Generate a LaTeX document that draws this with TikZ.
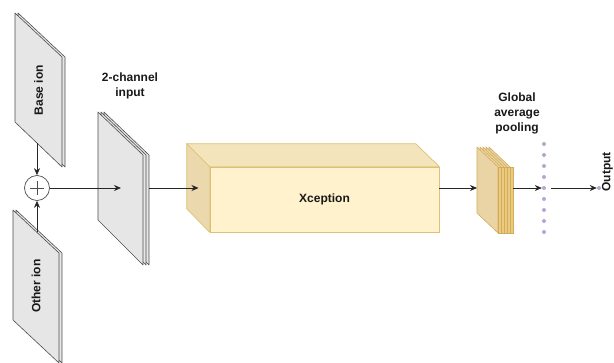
\documentclass[tikz,border=0pt]{standalone}
\usepackage{fontspec}
\setmainfont{Liberation Sans}
\usetikzlibrary{arrows.meta}
\definecolor{panelfill}{HTML}{E6E6E6}
\definecolor{panelline}{HTML}{4D4D4D}
\definecolor{xfront}{HTML}{FFF2CC}
\definecolor{xtop}{HTML}{F4E4BC}
\definecolor{xside}{HTML}{EBD8AC}
\definecolor{xline}{HTML}{DCC276}
\definecolor{poolside}{HTML}{EAD4A6}
\definecolor{poolfront}{HTML}{EBCB84}
\definecolor{poolline}{HTML}{D2AC55}
\definecolor{dotcol}{HTML}{B9A3D3}
\begin{document}
\begin{tikzpicture}[x=1pt,y=-1pt,every node/.style={font=\fontsize{12}{15}\selectfont\bfseries,text=black!90},
  panel/.style={draw=panelline,fill=panelfill,line width=0.6pt,line join=round},
  flow/.style={draw=black!85,line width=0.7pt,-{Stealth[length=7pt,width=6pt]}},
  dot/.style={circle,fill=dotcol,inner sep=0pt,minimum size=4pt}]
\useasboundingbox (0,0) rectangle (614,362);
\foreach \d in {3,0} \draw[panel] (15+\d,13)--(62+\d,57)--(62+\d,167)--(15+\d,122)--cycle;
\node[rotate=90] (base) at (38.5,90) {Base ion};
\foreach \d in {3,0} \draw[panel] (13+\d,210)--(59+\d,253)--(59+\d,363)--(13+\d,320)--cycle;
\node[rotate=90] (other) at (36,286) {Other ion};
\node[circle,draw=panelline,line width=0.7pt,minimum size=25pt,inner sep=0pt] (sum) at (37,188) {};
\draw[panelline,line width=0.7pt] (sum.center) ++(-7,0) -- ++(14,0) (sum.center) ++(0,-7) -- ++(0,14);
\coordinate (baseout) at (37,143);
\coordinate (otherout) at (37,232);
\draw[flow] (baseout) -- (sum.north);
\draw[flow] (otherout) -- (sum.south);
\foreach \d in {6,3,0} \draw[panel] (98+\d,112)--(143+\d,155)--(143+\d,265)--(98+\d,220)--cycle;
\node[align=center] (chlabel) at (130,86) {2-channel\\input};
\coordinate (inmid) at (121,188);
\coordinate (inright) at (149,188);
\draw[flow] (sum.east) -- (inmid);
\node[fill=xfront,draw=xline,line width=0.7pt,minimum width=229pt,minimum height=65pt,inner sep=0pt] (xcep) at (324.5,199.5) {Xception};
\draw[fill=xtop,draw=xline,line width=0.7pt,line join=round] (xcep.north west) -- ++(-23,-23) -- ++(229,0) -- (xcep.north east) -- cycle;
\draw[fill=xside,draw=xline,line width=0.7pt,line join=round] (xcep.north west) -- ++(-23,-23) -- ++(0,65) -- (xcep.south west) -- cycle;
\coordinate (xleft) at (198.5,188);
\draw[flow] (inright) -- (xleft);
\foreach \i in {4,3,2,1,0} {
  \draw[fill=poolside,draw=poolline,line width=0.6pt,line join=round] (477+3*\i,147)--(498+3*\i,167)--(498+3*\i,233)--(477+3*\i,213)--cycle;
  \draw[fill=poolfront,draw=poolline,line width=0.6pt] (498+3*\i,167) rectangle (501+3*\i,233);
}
\coordinate (poolin) at (477,188);
\coordinate (poolout) at (513,188);
\draw[flow] (xcep.east |- poolin) -- (poolin);
\node[align=center] (gaplabel) at (517,113) {Global\\average\\pooling};
\foreach \k in {0,...,8} \node[dot] (d\k) at (544,144+11*\k) {};
\draw[flow] (poolout) -- (d4.west);
\node[dot] (odot) at (599,188) {};
\coordinate (outstart) at (551,188);
\draw[flow] (outstart) -- (odot.west);
\node[rotate=90] (outlabel) at (607.5,172) {Output};
\end{tikzpicture}
\end{document}
